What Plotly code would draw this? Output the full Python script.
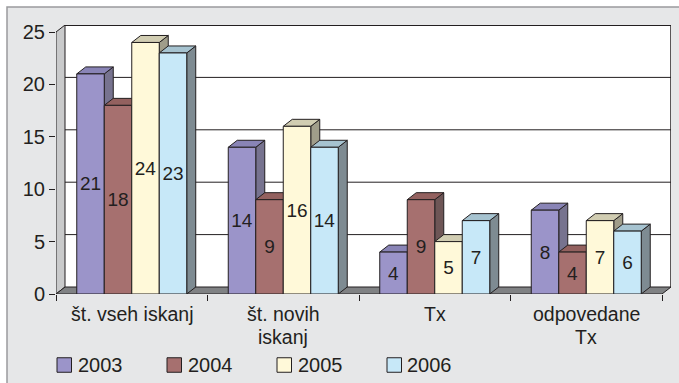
import plotly.graph_objects as go

# ---- data ---------------------------------------------------------------
categories = ["št. vseh iskanj", "št. novih<br>iskanj", "Tx", "odpovedane<br>Tx"]
years = ["2003", "2004", "2005", "2006"]
v2003 = [21, 14, 4, 8]
v2004 = [18, 9, 9, 4]
v2005 = [24, 16, 5, 7]
v2006 = [23, 14, 7, 6]
y_ticks = [0, 5, 10, 15, 20, 25]

series = [v2003, v2004, v2005, v2006]

# ---- styling ------------------------------------------------------------
front_colors = ["#9b94c9", "#a6706f", "#fff9d9", "#c7e8f8"]
top_colors = ["#8984b6", "#93615f", "#d1cdb2", "#a6c3d0"]
side_colors = ["#77738f", "#6e5656", "#a09d8a", "#7e8b92"]
INK = "#231f20"
PANEL = "#e6e7e8"
FONT = "Liberation Sans, Arial, sans-serif"

W, H = 679, 383
ML, MT, MR, MB = 56, 25, 8, 89
plot_w = W - ML - MR
plot_h = H - MT - MB

Y_MAX = 25
DEPTH_X_PX, DEPTH_Y_PX = 9, 7
n_cat = len(categories)
sx = (plot_w - DEPTH_X_PX) / n_cat          # px per category
sy = (plot_h - DEPTH_Y_PX) / Y_MAX          # px per value unit
dx = DEPTH_X_PX / sx                         # depth offset in data units
dy = DEPTH_Y_PX / sy

x_lo, x_hi = -0.5, n_cat - 0.5
group = 0.726
bw = group / len(series)


def px_x(px):
    return (px - ML) / plot_w


def px_y(py):
    return (H - MB - py) / plot_h


fig = go.Figure()

# side and top faces of each column (drawn under the front faces)
sides, tops = [], []
for i, vals in enumerate(series):
    sxs, sys_, txs, tys = [], [], [], []
    for c, v in enumerate(vals):
        x0 = c - group / 2 + i * bw
        x1 = x0 + bw
        sxs += [x1, x1, x1 + dx, x1 + dx, x1, None]
        sys_ += [0, v, v + dy, dy, 0, None]
        txs += [x0, x1, x1 + dx, x0 + dx, x0, None]
        tys += [v, v, v + dy, v + dy, v, None]
    sides.append(go.Scatter(x=sxs, y=sys_, mode="lines", fill="toself",
                            fillcolor=side_colors[i], line=dict(color=INK, width=1),
                            hoverinfo="skip", showlegend=False))
    tops.append(go.Scatter(x=txs, y=tys, mode="lines", fill="toself",
                           fillcolor=top_colors[i], line=dict(color=INK, width=1),
                           hoverinfo="skip", showlegend=False))
for t in sides + tops:
    fig.add_trace(t)

# front faces as bars on an overlaid axis pair so they sit on top
for i, (yr, vals) in enumerate(zip(years, series)):
    fig.add_trace(go.Bar(
        x=list(range(n_cat)), y=vals, name=yr,
        width=bw, offset=-group / 2 + i * bw,
        marker=dict(color=front_colors[i], line=dict(color=INK, width=1)),
        text=[str(v) for v in vals], textposition="inside",
        insidetextanchor="middle", textangle=0, constraintext="none",
        textfont=dict(family=FONT, size=19, color=INK),
        xaxis="x2", yaxis="y2", showlegend=False,
    ))

shapes = []
# back wall
shapes.append(dict(type="rect", xref="x", yref="y", layer="below",
                   x0=x_lo + dx, x1=x_hi + dx, y0=dy, y1=Y_MAX + dy,
                   fillcolor="white", line=dict(width=0)))
# gridlines on the back wall
for v in y_ticks[1:-1]:
    shapes.append(dict(type="line", xref="x", yref="y", layer="below",
                       x0=x_lo + dx, x1=x_hi + dx, y0=v + dy, y1=v + dy,
                       line=dict(color=INK, width=1)))
shapes.append(dict(type="line", xref="x", yref="y", layer="below",
                   x0=x_lo + dx, x1=x_hi + dx, y0=Y_MAX + dy, y1=Y_MAX + dy,
                   line=dict(color=INK, width=2)))
shapes.append(dict(type="line", xref="x", yref="y", layer="below",
                   x0=x_hi + dx, x1=x_hi + dx, y0=dy, y1=Y_MAX + dy,
                   line=dict(color=INK, width=1.5)))
# left wall
shapes.append(dict(type="path", xref="x", yref="y", layer="below",
                   path=f"M{x_lo},0 L{x_lo},{Y_MAX} L{x_lo + dx},{Y_MAX + dy} "
                        f"L{x_lo + dx},{dy} Z",
                   fillcolor="#c9cacb", line=dict(color=INK, width=1)))
# floor
shapes.append(dict(type="path", xref="x", yref="y", layer="below",
                   path=f"M{x_lo},0 L{x_hi},0 L{x_hi + dx},{dy} L{x_lo + dx},{dy} Z",
                   fillcolor="#808284", line=dict(color=INK, width=1)))

# outer panel: white strip at top/left with a grey edge line
shapes.append(dict(type="rect", xref="paper", yref="paper", layer="above",
                   x0=px_x(0), x1=px_x(W), y0=px_y(7), y1=px_y(0),
                   fillcolor="white", line=dict(width=0)))
shapes.append(dict(type="rect", xref="paper", yref="paper", layer="above",
                   x0=px_x(0), x1=px_x(7), y0=px_y(H), y1=px_y(0),
                   fillcolor="white", line=dict(width=0)))
shapes.append(dict(type="path", xref="paper", yref="paper", layer="above",
                   path=f"M{px_x(W)},{px_y(7)} L{px_x(7)},{px_y(7)} L{px_x(7)},{px_y(H)}",
                   line=dict(color="#9a9b9d", width=1.5)))

annotations = []
# category labels, one annotation per line for tight line spacing
LABEL_Y0, LABEL_LINE = 314, 22.5
for c, cat in enumerate(categories):
    for k, line in enumerate(cat.split("<br>")):
        annotations.append(dict(xref="x", yref="paper", x=c,
                                y=px_y(LABEL_Y0 + k * LABEL_LINE),
                                xanchor="center", yanchor="middle",
                                text=line, showarrow=False,
                                font=dict(family=FONT, size=19.5, color=INK)))

# legend
LEG_X0, LEG_STEP, LEG_SQ, LEG_Y = 57, 110, 14.5, 365
for i, yr in enumerate(years):
    lx = LEG_X0 + i * LEG_STEP
    shapes.append(dict(type="rect", xref="paper", yref="paper", layer="above",
                       x0=px_x(lx), x1=px_x(lx + LEG_SQ),
                       y0=px_y(LEG_Y + LEG_SQ / 2), y1=px_y(LEG_Y - LEG_SQ / 2),
                       fillcolor=front_colors[i], line=dict(color=INK, width=1)))
    annotations.append(dict(xref="paper", yref="paper", x=px_x(lx + LEG_SQ + 4),
                            y=px_y(LEG_Y), xanchor="left", yanchor="middle",
                            text=yr, showarrow=False,
                            font=dict(family=FONT, size=20, color=INK)))

axis_common = dict(showgrid=False, zeroline=False, showline=False)
fig.update_layout(
    width=W, height=H,
    margin=dict(l=ML, r=MR, t=MT, b=MB, pad=0),
    paper_bgcolor=PANEL, plot_bgcolor="rgba(0,0,0,0)",
    font=dict(family=FONT, size=19, color=INK),
    barmode="overlay",
    showlegend=False,
    xaxis=dict(range=[x_lo, x_hi + dx], tickmode="array",
               tickvals=list(range(n_cat)), ticks="", showticklabels=False,
               minor=dict(tickmode="array",
                          tickvals=[x_lo + k for k in range(n_cat + 1)],
                          ticks="outside", ticklen=6, tickcolor=INK, tickwidth=1,
                          showgrid=False),
               **axis_common),
    yaxis=dict(range=[0, Y_MAX + dy], tickmode="array", tickvals=y_ticks,
               ticks="outside", ticklen=6, tickcolor=INK, tickwidth=1,
               tickfont=dict(size=20), **axis_common),
    xaxis2=dict(range=[x_lo, x_hi + dx], overlaying="x", visible=False),
    yaxis2=dict(range=[0, Y_MAX + dy], overlaying="y", visible=False),
    shapes=shapes,
    annotations=annotations,
)

fig.write_html("out.html")
